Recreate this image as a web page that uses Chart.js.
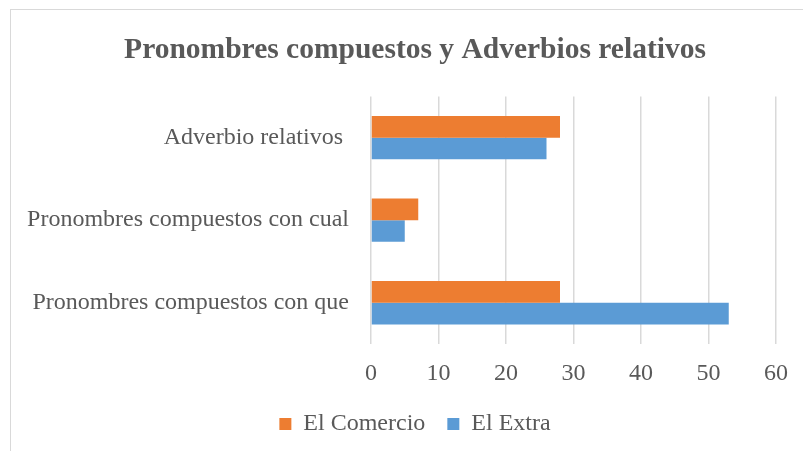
<!DOCTYPE html>
<html>
<head>
<meta charset="utf-8">
<script src="https://cdn.jsdelivr.net/npm/chart.js@4"></script>
<style>
  html, body { margin: 0; padding: 0; background: #fff; overflow: hidden; }
  #wrap { position: relative; width: 803px; height: 451px; }
  #frame { position: absolute; left: 10px; top: 9px; width: 900px; height: 600px; border: 1px solid #d9d9d9; box-sizing: border-box; }
  canvas { position: absolute; left: 0; top: 0; }
</style>
</head>
<body>
<div id="wrap">
  <div id="frame"></div>
  <canvas id="chart" width="803" height="451"></canvas>
</div>
<script>
const categories = ['Adverbio relativos ', 'Pronombres compuestos con cual', 'Pronombres compuestos con que'];
const elComercio = [28, 7, 28];
const elExtra = [26, 5, 53];
const xTicks = [0, 10, 20, 30, 40, 50, 60];

const textColor = '#595959';
const serif = '"Liberation Serif", "Times New Roman", serif';

const ctx = document.getElementById('chart').getContext('2d');
new Chart(ctx, {
    type: 'bar',
    data: {
        labels: categories,
        datasets: [
            { label: 'El Comercio', data: elComercio, backgroundColor: '#ED7D31', borderWidth: 0 },
            { label: 'El Extra', data: elExtra, backgroundColor: '#5B9BD5', borderWidth: 0 }
        ]
    },
    options: {
        indexAxis: 'y',
        responsive: false,
        animation: false,
        layout: { padding: { left: 53, right: 26, top: 0, bottom: 5 } },
        datasets: { bar: { categoryPercentage: 0.525, barPercentage: 1 } },
        scales: {
            x: {
                min: 0, max: 60,
                afterBuildTicks: axis => { axis.ticks = xTicks.map(v => ({ value: v })); },
                afterFit: axis => { axis.height = 46; },
                grid: { color: '#d9d9d9', lineWidth: 1.5, drawTicks: false },
                border: { display: false },
                ticks: { color: textColor, font: { family: serif, size: 24 }, padding: 15 }
            },
            y: {
                afterFit: axis => {
                    axis.width = 318;
                    // long labels run past the axis box on the left, so don't clip them
                    axis._computeLabelArea = () => undefined;
                },
                grid: { display: false, drawTicks: false },
                border: { display: false },
                ticks: { color: textColor, font: { family: serif, size: 24 }, padding: 22 }
            }
        },
        plugins: {
            title: {
                display: true,
                text: 'Pronombres compuestos y Adverbios relativos',
                color: textColor,
                font: { family: serif, size: 29.5, weight: 'bold' },
                padding: { top: 33, bottom: 28 }
            },
            legend: {
                position: 'bottom',
                labels: {
                    color: textColor,
                    font: { family: serif, size: 24 },
                    boxWidth: 12, boxHeight: 12,
                    padding: 22
                }
            },
            tooltip: { enabled: false }
        }
    }
});
</script>
</body>
</html>
